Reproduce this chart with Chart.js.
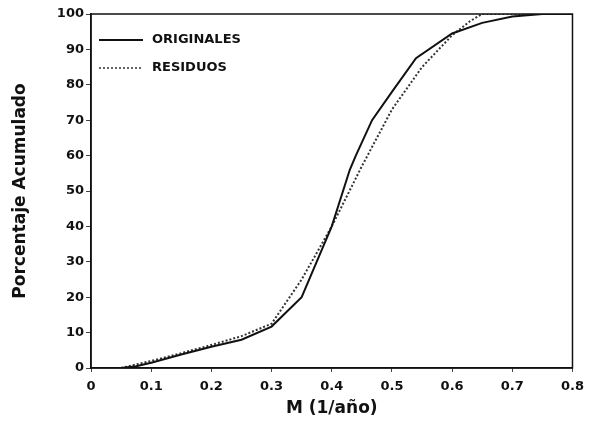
<!DOCTYPE html>
<html><head><meta charset="utf-8">
<script src="https://cdn.jsdelivr.net/npm/chart.js@4"></script>
<style>html,body{margin:0;padding:0;background:#fff}#wrap{width:591px;height:422px}</style>
</head><body><div id="wrap"><canvas id="c" width="591" height="422"></canvas></div>
<script>
const xTicks = [0, 0.1, 0.2, 0.3, 0.4, 0.5, 0.6, 0.7, 0.8];
const yTicks = [0, 10, 20, 30, 40, 50, 60, 70, 80, 90, 100];
const origM = [0.05, 0.075, 0.1, 0.15, 0.2, 0.25, 0.3, 0.35, 0.4, 0.43, 0.44, 0.467, 0.5, 0.54, 0.6, 0.65, 0.7, 0.75, 0.8];
const origP = [0, 0.5, 1.5, 3.8, 6, 8, 11.7, 20, 40, 56, 60, 70, 78, 87.5, 94.5, 97.5, 99.3, 100, 100];
const resM = [0.05, 0.1, 0.15, 0.2, 0.25, 0.3, 0.35, 0.4, 0.45, 0.5, 0.55, 0.6, 0.63, 0.65, 0.8];
const resP = [0, 2, 4.2, 6.5, 9, 12.5, 25, 40, 57, 73, 85, 94, 98, 100, 100];
const seriesNames = ['ORIGINALES', 'RESIDUOS'];

const toPts = (xs, ys) => xs.map((x, i) => ({x: x, y: ys[i]}));
const font = 'DejaVu Sans, Arial, sans-serif';

const framePlugin = {
  id: 'frame',
  afterDraw(chart) {
    const {ctx, chartArea: a} = chart;
    ctx.save();
    ctx.strokeStyle = '#111';
    ctx.lineWidth = 1.5;
    ctx.strokeRect(a.left, a.top, a.right - a.left, a.bottom - a.top);
    // legend
    const items = [
      {label: seriesNames[0], dash: [], y: a.top + 26},
      {label: seriesNames[1], dash: [2, 2], y: a.top + 54}
    ];
    ctx.font = 'bold 13px ' + font;
    ctx.textBaseline = 'middle';
    ctx.fillStyle = '#111';
    items.forEach(it => {
      ctx.beginPath();
      ctx.setLineDash(it.dash);
      ctx.lineWidth = it.dash.length ? 1.3 : 2;
      ctx.moveTo(a.left + 8, it.y);
      ctx.lineTo(a.left + 52, it.y);
      ctx.stroke();
      ctx.setLineDash([]);
      ctx.fillText(it.label, a.left + 61, it.y);
    });
    ctx.restore();
  }
};

new Chart(document.getElementById('c'), {
  type: 'line',
  data: {
    datasets: [
      {label: seriesNames[0], data: toPts(origM, origP), borderColor: '#111', borderWidth: 2, pointRadius: 0, tension: 0, fill: false},
      {label: seriesNames[1], data: toPts(resM, resP), borderColor: '#333', borderWidth: 2, borderDash: [2, 2], pointRadius: 0, tension: 0, fill: false}
    ]
  },
  options: {
    responsive: false,
    animation: false,
    layout: {padding: {left: 0, right: 17, top: 14, bottom: 0}},
    plugins: {legend: {display: false}, tooltip: {enabled: false}},
    scales: {
      x: {
        type: 'linear', min: 0, max: 0.8,
        afterBuildTicks(s) { s.ticks = xTicks.map(v => ({value: v})); },
        afterFit(s) { s.height = 54; },
        ticks: {color: '#111', font: {family: font, weight: 'bold', size: 13}, padding: 7, callback: v => String(v)},
        grid: {display: true, drawOnChartArea: false, tickLength: 4, color: '#444'},
        border: {display: true, color: '#111', width: 1.5},
        title: {display: true, text: 'M (1/año)', color: '#111', font: {family: font, weight: 'bold', size: 17}, padding: {top: 0, bottom: 3}}
      },
      y: {
        min: 0, max: 100,
        afterBuildTicks(s) { s.ticks = yTicks.map(v => ({value: v})); },
        afterFit(s) { s.width = 91; },
        ticks: {color: '#111', font: {family: font, weight: 'bold', size: 13}, padding: 2},
        grid: {display: true, drawOnChartArea: false, tickLength: 5, color: '#444'},
        border: {display: true, color: '#111', width: 1.5},
        title: {display: true, text: 'Porcentaje Acumulado', color: '#111', font: {family: font, weight: 'bold', size: 17}, padding: {top: 10, bottom: 0}}
      }
    }
  },
  plugins: [framePlugin]
});
</script></body></html>
